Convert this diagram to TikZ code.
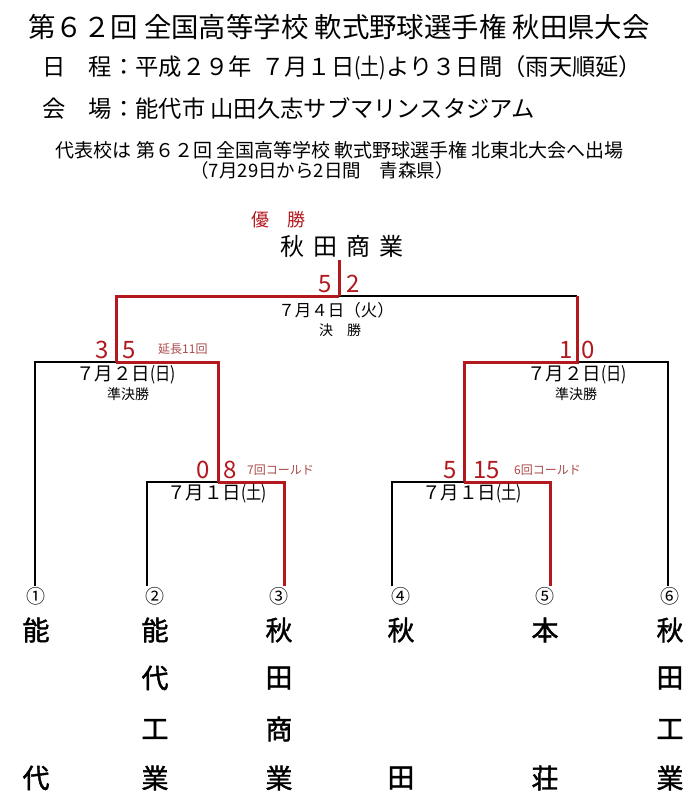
\documentclass[tikz,border=0pt]{standalone}
\usepackage{fontspec}
\setmainfont{Noto Sans CJK JP}
\newfontfamily\teamfont{Noto Sans CJK JP}[RawFeature={embolden=1.5}]
\usetikzlibrary{calc}
\definecolor{winred}{RGB}{178,24,30}
\definecolor{notered}{RGB}{172,72,72}
% day of week in narrow brackets
\newcommand{\wday}[1]{\scalebox{0.82}[1]{(#1)}}
\tikzset{
    bracket/.style = {x=1pt, y=-1pt},
    lose/.style    = {draw=black, line width=1.2pt},
    win/.style     = {draw=winred, line width=3pt},
    txt/.style     = {inner sep=0pt},
    title/.style   = {txt, font=\fontsize{27.4}{31}\selectfont},
    info/.style    = {txt, anchor=west, font=\fontsize{23.3}{28}\selectfont},
    sub/.style     = {txt, font=\fontsize{19}{22}\selectfont},
    winner/.style  = {txt, font=\fontsize{24}{28}\selectfont},
    crown/.style   = {txt, text=winred, font=\fontsize{18}{22}\selectfont},
    score/.style   = {txt, text=winred, font=\fontsize{24}{27}\selectfont},
    date/.style    = {txt, font=\fontsize{18.5}{21}\selectfont},
    stage/.style   = {txt, font=\fontsize{14}{16}\selectfont},
    note/.style    = {txt, anchor=west, text=notered,
                      font=\fontsize{12}{14}\selectfont},
    seed/.style    = {txt, font=\fontsize{19}{21}\selectfont},
    team/.style    = {txt, font=\teamfont\fontsize{27}{30}\selectfont}
}

\begin{document}
\begin{tikzpicture}[bracket]
\useasboundingbox (0,0) rectangle (700,810);

% Heading
\node[title] (head) at (339,27) {第６２回 全国高等学校 軟式野球選手権 秋田県大会};
\node[info] (sched) at (42,68)
    {日　程：平成２９年\hspace{0.4em}７月１日\wday{土}より３日間（雨天順延）};
\node[info] (venue) at (42,108) {会　場：能代市 山田久志サブマリンスタジアム};
\node[sub] (rep) at (340,150)
    {代表校は 第６２回 全国高等学校 軟式野球選手権 北東北大会へ出場};
\node[sub, font=\fontsize{18.5}{21}\selectfont] (repdate) at (322,170)
    {（7月29日から2日間　青森県）};

% Match points
\coordinate (f)  at (339,296);
\coordinate (s1) at (116,362);
\coordinate (s2) at (577,362);
\coordinate (m1) at (218,482);
\coordinate (m2) at (464,482);
\coordinate (top) at (339,260);

% Teams: seed, x, mark, four rows of the name
\foreach \i/\x/\c/\a/\b/\e/\d in {1/36/①/能/{}/{}/代, 2/155/②/能/代/工/業,
        3/279/③/秋/田/商/業, 4/401/④/秋/{}/{}/田,
        5/545/⑤/本/{}/{}/荘, 6/670/⑥/秋/田/工/業} {
    \node[seed] (seed\i) at (\x,596) {\c};
    \node[team] (t\i-1) at (\x,630) {\a};
    \node[team] (t\i-2) at (\x,678) {\b};
    \node[team] (t\i-3) at (\x,729) {\e};
    \node[team] (t\i-4) at (\x,778) {\d};
}
\coordinate (l1) at (35,586);
\coordinate (l2) at (147,586);
\coordinate (l3) at (284,586);
\coordinate (l4) at (392,586);
\coordinate (l5) at (550,586);
\coordinate (l6) at (668,586);

% Losing paths
\draw[lose] (l1) |- (s1);
\draw[lose] (l2) |- (m1);
\draw[lose] (l4) |- (m2);
\draw[lose] (s2) -| (l6);
\draw[lose] (f) -- (f -| s2);

% Winning paths
\draw[win] (m1) -| (l3);
\draw[win] (s1) -| (m1);
\draw[win] (f) -| (s1);
\draw[win] (top) -- (f);
\draw[win] (m2) -| (l5);
\draw[win] (m2) |- (s2) -- (s2 |- f);

% Champion
\node[crown] (crown) at (278,220) {優　勝};
\node[winner] (champ) at (342,246) {秋\hspace{9pt}田\hspace{9pt}商\hspace{9pt}業};

% Final
\node[score, anchor=east] (fL) at (332,284) {5};
\node[score, anchor=west] (fR) at (346,284) {2};
\node[date, font=\fontsize{16.5}{20}\selectfont] (fdate) at (336,310) {７月４日（火）};
\node[stage] (fstage) at (340,330) {決　勝};

% Semifinals
\node[score, anchor=east] (s1L) at (109,350) {3};
\node[score, anchor=west] (s1R) at (122,350) {5};
\node[note] (s1note) at (158,349) {延長11回};
\node[date] (s1date) at (126,375) {７月２日\wday{日}};
\node[stage] (s1stage) at (128,394) {準決勝};
\node[score, anchor=east] (s2L) at (573,350) {1};
\node[score, anchor=west] (s2R) at (581,350) {0};
\node[date] (s2date) at (577,375) {７月２日\wday{日}};
\node[stage] (s2stage) at (576,394) {準決勝};

% First round
\node[score, anchor=east] (m1L) at (210,470) {0};
\node[score, anchor=west] (m1R) at (223,470) {8};
\node[note] (m1note) at (247,470) {7回コールド};
\node[date] (m1date) at (217,494) {７月１日\wday{土}};
\node[score, anchor=east] (m2L) at (457,470) {5};
\node[score, anchor=west] (m2R) at (473,470) {15};
\node[note] (m2note) at (514,470) {6回コールド};
\node[date] (m2date) at (472,494) {７月１日\wday{土}};

\end{tikzpicture}
\end{document}
